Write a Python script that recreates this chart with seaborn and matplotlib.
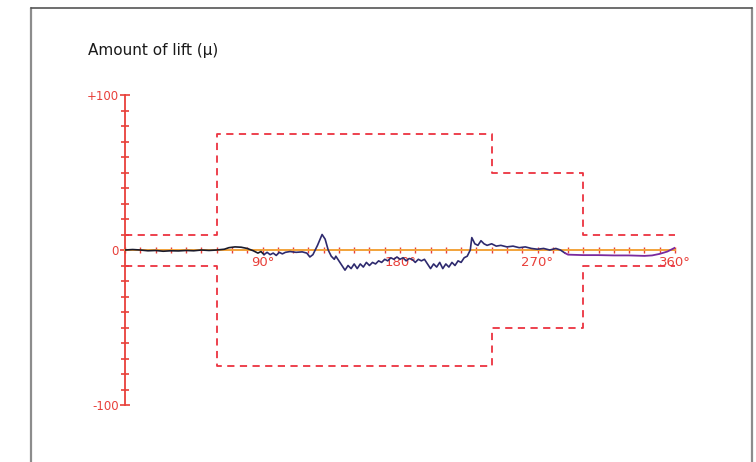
import pandas as pd
import matplotlib.pyplot as plt
import seaborn as sns
from matplotlib.lines import Line2D
from matplotlib.ticker import MultipleLocator, FixedLocator

# measured lift trace (degrees of rotation, microns)
angle = [0, 5, 10, 15, 20, 25, 30, 35, 40, 45, 50, 55, 60, 65, 68, 72, 76, 80, 84, 87,
         89, 91, 93, 95, 97, 99, 101, 103, 105, 108, 112, 116, 119, 121, 123, 126, 129, 131, 133, 135,
         137, 138, 140, 142, 144, 146, 148, 150, 152, 154, 156, 158, 160, 162, 164, 166, 168, 170, 172, 174,
         176, 178, 180, 182, 184, 186, 188, 190, 192, 194, 196, 198, 200, 202, 204, 206, 208, 210, 212, 214,
         216, 218, 220, 222, 224, 226, 227, 229, 231, 233, 235, 237, 240, 243, 246, 250, 254, 258, 262, 266,
         270, 274, 278, 282, 285, 288, 290, 300, 310, 320, 330, 340, 345, 350, 355, 360]
lift = [0, 0.3, 0, -0.5, -0.3, -0.8, -0.5, -0.6, -0.3, -0.5, 0, -0.3, 0, 0.5, 1.5, 2, 1.8, 1, -0.5, -2,
        -1, -3, -1.5, -3, -2, -3.5, -1.5, -2.5, -1.5, -1, -1.5, -1.2, -2, -4.5, -3, 3, 10, 7, 0, -4,
        -6, -4, -7, -10, -13, -10, -12, -9, -12, -9, -11, -8, -10, -8, -9, -7, -8, -6, -7, -5,
        -6, -4.5, -6, -5, -7, -5.5, -6, -8, -6, -7, -6, -9, -12, -9, -11, -8, -12, -9, -11, -8,
        -10, -7, -8, -5, -4, 0, 8, 4, 3, 6, 4, 3, 4, 2.5, 3, 2, 2.5, 1.5, 2, 1,
        0.5, 1, 0, 1, 0, -2, -3, -3.3, -3.3, -3.5, -3.5, -3.8, -3.5, -2.5, -1, 1.5]

# tolerance envelope (step outline)
env_x = [0, 60, 60, 240, 240, 300, 300, 360]
env_hi = [10, 10, 75, 75, 50, 50, 10, 10]

y_ticks = [-100, 0, 100]
y_labels = ["-100", "0", "+100"]
x_ticks = [90, 180, 270, 360]
x_labels = ["90°", "180°", "270°", "360°"]

RED = "#e8403a"
ORANGE = "#f2a33a"
DASH = "#ec3340"

sns.set_style("white")
fig = plt.figure(figsize=(7.56, 4.62), dpi=100)
ax = fig.add_axes([125 / 756, 57 / 462, 550 / 756, 310 / 462])

df = pd.DataFrame({"angle": angle, "lift": lift})
df_env = pd.DataFrame({"angle": env_x, "hi": env_hi, "lo": [-v for v in env_hi]})

sns.lineplot(data=df_env, x="angle", y="hi", ax=ax, color=DASH, lw=1.3,
             linestyle=(0, (4, 3)), estimator=None, sort=False)
sns.lineplot(data=df_env, x="angle", y="lo", ax=ax, color=DASH, lw=1.3,
             linestyle=(0, (4, 3)), estimator=None, sort=False)

# trace drawn above the axis line
seg1 = df[df.angle <= 91]
seg2 = df[(df.angle >= 91) & (df.angle <= 288)]
seg3 = df[df.angle >= 288]
sns.lineplot(data=seg1, x="angle", y="lift", ax=ax, color="#1a1a2a", lw=1.2,
             estimator=None, sort=False, zorder=4)
sns.lineplot(data=seg2, x="angle", y="lift", ax=ax, color="#2e2a6e", lw=1.2,
             estimator=None, sort=False, zorder=4)
sns.lineplot(data=seg3, x="angle", y="lift", ax=ax, color="#7a2a9e", lw=1.3,
             estimator=None, sort=False, zorder=4)

ax.set_xlim(0, 360)
ax.set_ylim(-100, 100)
ax.set_xlabel("")
ax.set_ylabel("")

for s in ["top", "right"]:
    ax.spines[s].set_visible(False)
ax.spines["left"].set_position(("data", 0))
ax.spines["left"].set_color(RED)
ax.spines["left"].set_linewidth(1.3)
ax.spines["bottom"].set_position(("data", 0))
ax.spines["bottom"].set_color(ORANGE)
ax.spines["bottom"].set_linewidth(1.4)

ax.yaxis.set_major_locator(FixedLocator(y_ticks))
ax.set_yticklabels(y_labels)
ax.yaxis.set_minor_locator(MultipleLocator(10))
ax.tick_params(axis="y", which="both", direction="inout", color=RED, width=1.2,
               length=7, labelcolor=RED, labelsize=8.5, pad=1, left=True)
ax.tick_params(axis="y", which="minor", length=6)

ax.xaxis.set_major_locator(FixedLocator(x_ticks))
ax.set_xticklabels(x_labels, ha="center")
ax.xaxis.set_minor_locator(MultipleLocator(10))
ax.tick_params(axis="x", which="both", direction="inout", color=RED, width=1.0,
               length=5, labelcolor=RED, labelsize=9.5, pad=2, bottom=True)
ax.patch.set_alpha(0)

fig.text(88 / 756, 1 - 50 / 462, "Amount of lift (\u03bc)", fontsize=11,
         color="#1a1a1a", va="center", ha="left")

# outer frame of the page
fig.add_artist(Line2D([31 / 756, 31 / 756], [0, 1 - 8 / 462], color="#8c8c8c", lw=1.6))
fig.add_artist(Line2D([752 / 756, 752 / 756], [0, 1 - 8 / 462], color="#8c8c8c", lw=1.6))
fig.add_artist(Line2D([31 / 756, 752 / 756], [1 - 8 / 462, 1 - 8 / 462], color="#555555", lw=1.2))

fig.savefig("out.png", dpi=100)
